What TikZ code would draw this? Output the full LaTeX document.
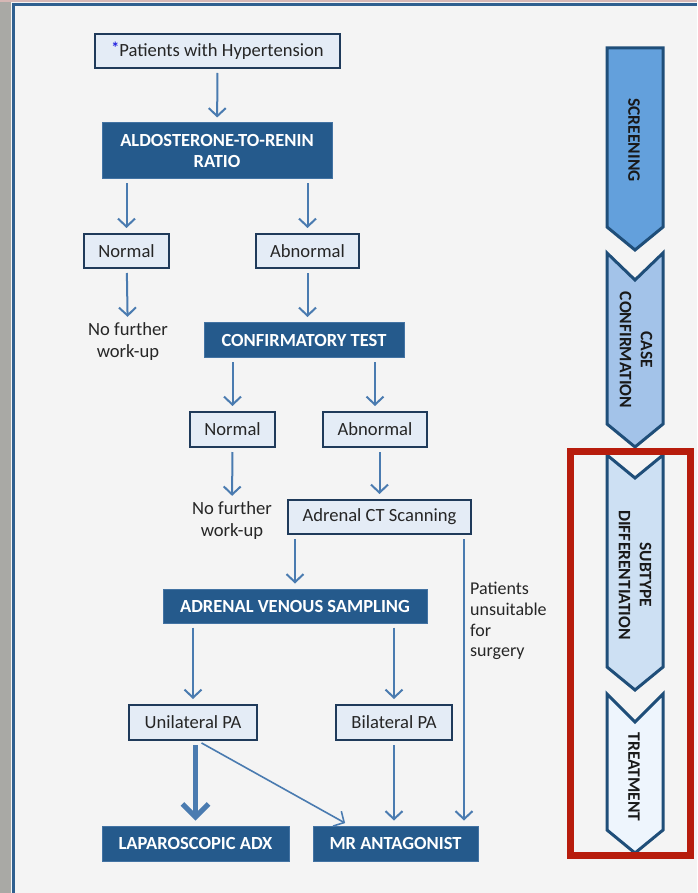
\documentclass[tikz,border=0pt]{standalone}
\usepackage{fontspec}
\setmainfont{Carlito}
\usetikzlibrary{arrows.meta, positioning}

\definecolor{pagebg}{HTML}{F4F4F4}
\definecolor{stripgrey}{HTML}{A9A9A5}
\definecolor{edgeblue}{HTML}{2F5F8F}
\definecolor{boxfill}{HTML}{E4ECF6}
\definecolor{boxline}{HTML}{1F3A5A}
\definecolor{darkfill}{HTML}{255A8C}
\definecolor{darkline}{HTML}{4373A3}
\definecolor{flowblue}{HTML}{4A7BB0}
\definecolor{starblue}{HTML}{2020E0}
\definecolor{chevline}{HTML}{1F4E79}
\definecolor{chev-a}{HTML}{63A0DC}
\definecolor{chev-b}{HTML}{A3C3E9}
\definecolor{chev-c}{HTML}{CDE0F3}
\definecolor{chev-d}{HTML}{EEF5FD}
\definecolor{framered}{HTML}{B71C0C}

\tikzset{
  light-box/.style={draw=boxline, fill=boxfill, line width=2pt, inner sep=0pt,
    text=black!85, font=\fontsize{18.6pt}{21pt}\selectfont},
  dark-box/.style={draw=darkline, fill=darkfill, line width=1pt, inner sep=0pt,
    text=white, align=center, font=\fontsize{18.5pt}{21pt}\selectfont\bfseries},
  plain-text/.style={inner sep=1pt, text=black!85, font=\fontsize{18.6pt}{22pt}\selectfont},
  flow/.style={draw=flowblue, line width=2pt, shorten <=4pt, shorten >=5pt,
    -{Straight Barb[length=8pt, width=17pt]}},
  flow-thick/.style={flow, line width=5pt, -{Straight Barb[length=13pt, width=26pt]}},
  chev/.style={draw=chevline, line width=3pt, line join=miter},
  chev-label/.style={rotate=-90, align=center, text=black!90,
    font=\fontsize{17.5pt}{21pt}\selectfont\bfseries}
}

\begin{document}
\begin{tikzpicture}[x=1pt, y=-1pt]
\useasboundingbox (0,0) rectangle (697,893);
\fill[pagebg] (0,0) rectangle (697,893);
\fill[stripgrey] (0,0) rectangle (11,893);
\fill[stripgrey!80!red!60] (0,0) rectangle (697,2);
\draw[edgeblue, line width=2.5pt] (13.5,893) -- (13.5,4.5) -- (697,4.5);

% flow chart
\path (217.5,51) node[light-box, minimum width=245pt, minimum height=34pt] (pat)
  {\raisebox{3pt}{\color{starblue}\fontsize{16pt}{16pt}\selectfont\bfseries*}Patients with Hypertension};
\path (217,151) node[dark-box, minimum width=230pt, minimum height=56pt] (arr-ratio)
  {ALDOSTERONE-TO-RENIN\\RATIO};

\path (126.5,251) node[light-box, minimum width=85pt, minimum height=34pt] (norm-1) {Normal};
\path (307.5,251) node[light-box, minimum width=103pt, minimum height=34pt] (abn-1) {Abnormal};
\path (128,342) node[plain-text, align=center] (nfw-1) {No further\\work-up};
\path (304,340) node[dark-box, minimum width=200pt, minimum height=35pt] (conf) {CONFIRMATORY TEST};

\path (232.5,429.5) node[light-box, minimum width=85pt, minimum height=35pt] (norm-2) {Normal};
\path (375,429.5) node[light-box, minimum width=104pt, minimum height=35pt] (abn-2) {Abnormal};
\path (232,521) node[plain-text, align=center] (nfw-2) {No further\\work-up};
\path (379.5,517) node[light-box, minimum width=183pt, minimum height=34pt] (ct) {Adrenal CT Scanning};

\path (295,606) node[dark-box, minimum width=264pt, minimum height=34pt] (avs) {ADRENAL VENOUS SAMPLING};
\path (469,621) node[plain-text, right, align=left, font=\fontsize{18pt}{20.7pt}\selectfont] (unfit)
  {Patients\\unsuitable\\for\\surgery};

\path (193,722.5) node[light-box, minimum width=128pt, minimum height=35pt] (uni) {Unilateral PA};
\path (394,722.5) node[light-box, minimum width=116pt, minimum height=35pt] (bil) {Bilateral PA};
\path (195.5,843.5) node[dark-box, minimum width=187pt, minimum height=35pt] (lap) {LAPAROSCOPIC ADX};
\path (395.5,843.5) node[dark-box, minimum width=165pt, minimum height=35pt] (mr) {MR ANTAGONIST};

\coordinate (ct-r) at ([xshift=-8pt]ct.south east);

\draw[flow] (pat) -- (arr-ratio);
\draw[flow] (arr-ratio.south -| norm-1) -- (norm-1);
\draw[flow] (arr-ratio.south -| abn-1) -- (abn-1);
\draw[flow] (norm-1) -- (nfw-1);
\draw[flow] (abn-1) -- (abn-1 |- conf.north);
\draw[flow] (conf.south -| norm-2) -- (norm-2);
\draw[flow] (conf.south -| abn-2) -- (abn-2);
\draw[flow] (norm-2) -- (nfw-2);
\draw[flow] (abn-2.south -| ct) -- (ct);
\draw[flow] (ct.south -| avs) -- (avs);
\draw[flow] (ct-r) -- (ct-r |- mr.north);
\draw[flow] (avs.south -| uni) -- (uni);
\draw[flow] (avs.south -| bil) -- (bil);
\draw[flow-thick] (uni.south -| lap) -- (lap);
\draw[flow, line width=1.6pt] ([xshift=5pt]uni.south) -- ([xshift=37pt]mr.north west);
\draw[flow] (bil) -- (bil |- mr.north);

% stage chevrons
\draw[chev, fill=chev-a] (607,48) -- (663,48) -- (663,227) -- (635,250) -- (607,227) -- cycle;
\draw[chev, fill=chev-b] (607,253) -- (635,280) -- (663,253) -- (663,424) -- (635,447) -- (607,424) -- cycle;
\draw[chev, fill=chev-c] (607,455) -- (635,478) -- (663,455) -- (663,667) -- (635,690) -- (607,667) -- cycle;
\draw[chev, fill=chev-d] (607,694) -- (635,722) -- (663,694) -- (663,830) -- (635,853) -- (607,830) -- cycle;

\path (634,140) node[chev-label] (scr) {SCREENING};
\path (636,350) node[chev-label] (case) {CASE\\CONFIRMATION};
\path (635,575) node[chev-label] (sub) {SUBTYPE\\DIFFERENTIATION};
\path (634,777) node[chev-label] (treat) {TREATMENT};

\draw[framered, line width=7pt] (570.5,451) rectangle (690,855.5);
\end{tikzpicture}
\end{document}
